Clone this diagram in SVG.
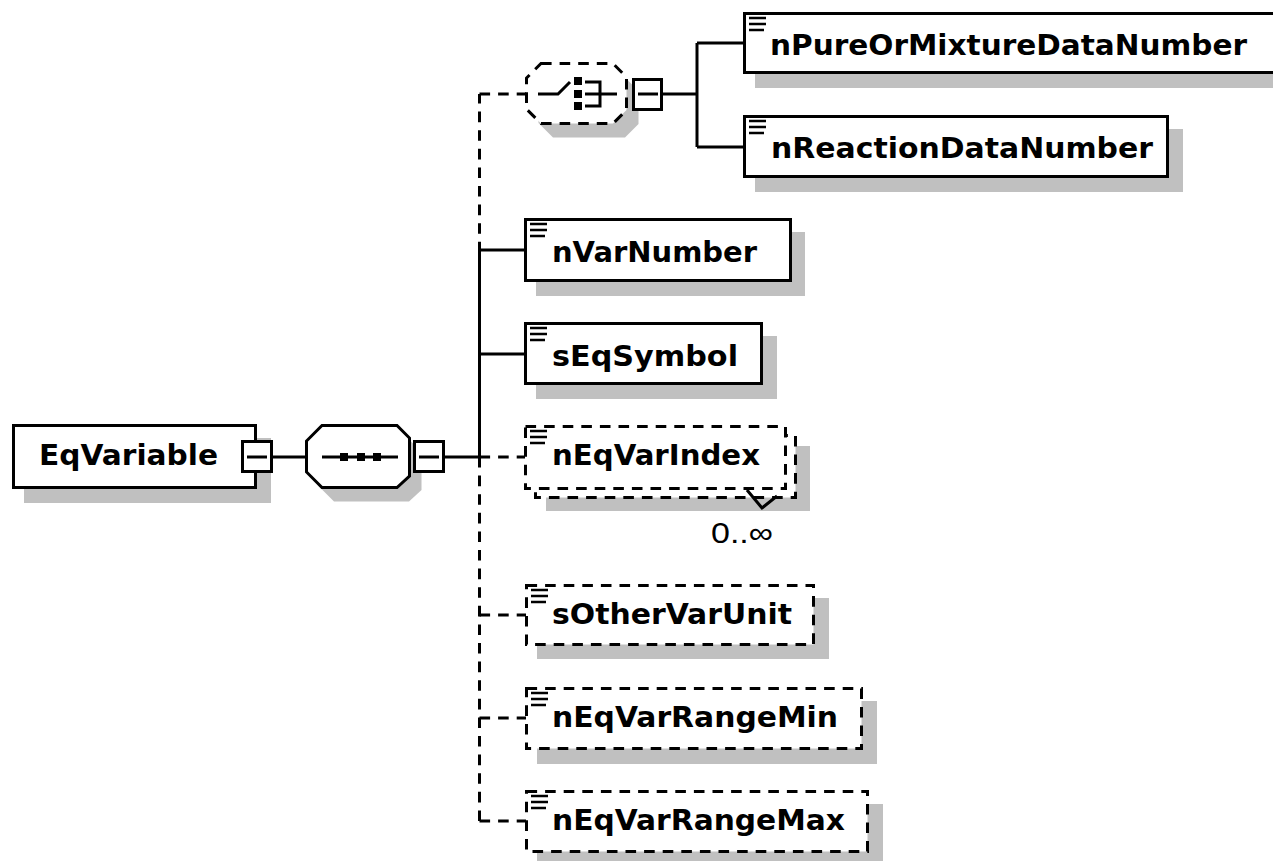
<svg xmlns="http://www.w3.org/2000/svg" width="1273" height="861" viewBox="0 0 1273 861">
<style>
.bg{fill:#ffffff}
.sh{fill:#c0c0c0;stroke:none}
.box{fill:#ffffff;stroke:#000;stroke-width:3}
.opt{fill:#ffffff;stroke:#000;stroke-width:3;stroke-dasharray:10.6 8}
.ln{fill:none;stroke:#000;stroke-width:3}
.dl{fill:none;stroke:#000;stroke-width:3;stroke-dasharray:10.6 8}
.ico{fill:none;stroke:#000;stroke-width:2.7}
.lbl{font-family:"DejaVu Sans","Liberation Sans",sans-serif;font-weight:bold;font-size:28px;fill:#000}
.occ{font-family:"Liberation Sans","DejaVu Sans",sans-serif;font-size:30px;fill:#000}
.dot{fill:#000}
</style>
<defs>
<path id="eq" d="M6 6H23M6 12H23M6 18H21" class="ico"/>
</defs>
<rect class="bg" x="0" y="0" width="1273" height="861"/>

<g id="connectors">
  <line class="ln" x1="273" y1="457" x2="306" y2="457"/>
  <line class="ln" x1="445" y1="457" x2="479.5" y2="457"/>
  <line class="dl" x1="479.5" y1="457" x2="479.5" y2="94"/>
  <line class="dl" x1="479.5" y1="94" x2="526" y2="94"/>
  <line class="ln" x1="479.5" y1="457" x2="479.5" y2="250"/>
  <line class="ln" x1="479.5" y1="250" x2="525" y2="250"/>
  <line class="ln" x1="479.5" y1="354" x2="525" y2="354"/>
  <line class="dl" x1="479.5" y1="457" x2="525" y2="457"/>
  <line class="dl" x1="479.5" y1="457" x2="479.5" y2="821"/>
  <line class="dl" x1="479.5" y1="615" x2="526" y2="615"/>
  <line class="dl" x1="479.5" y1="718" x2="526" y2="718"/>
  <line class="dl" x1="479.5" y1="821" x2="526" y2="821"/>
  <line class="ln" x1="663" y1="94" x2="697" y2="94"/>
  <line class="ln" x1="697" y1="43" x2="697" y2="147"/>
  <line class="ln" x1="697" y1="43" x2="744" y2="43"/>
  <line class="ln" x1="697" y1="147" x2="744" y2="147"/>
</g>

<g id="EqVariable">
  <rect class="sh" x="24" y="438" width="247" height="65"/>
  <rect class="box" x="13.5" y="425.5" width="242" height="62"/>
  <text class="lbl" x="39" y="465" textLength="179" lengthAdjust="spacingAndGlyphs">EqVariable</text>
  <rect class="box" x="242.5" y="441.5" width="29" height="30"/>
  <line class="ln" x1="247" y1="457" x2="267" y2="457"/>
</g>

<g id="sequence">
  <polygon class="sh" points="334,439.5 409,439.5 421.5,452 421.5,490 409,501.5 334,501.5 318.5,486 318.5,455"/>
  <polygon class="box" points="322,425.5 397,425.5 409.5,438 409.5,476 397,487.5 322,487.5 306.5,472 306.5,441"/>
  <line class="ln" x1="322" y1="457" x2="398" y2="457"/>
  <rect class="dot" x="340" y="453" width="8" height="8"/>
  <rect class="dot" x="357" y="453" width="8" height="8"/>
  <rect class="dot" x="373" y="453" width="8" height="8"/>
  <rect class="box" x="414.5" y="441.5" width="29" height="30"/>
  <line class="ln" x1="419" y1="457" x2="439" y2="457"/>
</g>

<g id="choice">
  <polygon class="sh" points="553,77.5 625,77.5 638.5,91 638.5,124 625,137.5 553,137.5 538.5,123 538.5,92"/>
  <polygon class="opt" points="541,63.5 613,63.5 626.5,77 626.5,110 613,123.5 541,123.5 526.5,109 526.5,78"/>
  <polyline class="ln" points="538,94 558,94 570,82"/>
  <rect class="dot" x="574" y="77" width="8" height="8"/>
  <rect class="dot" x="574" y="90" width="8" height="8"/>
  <rect class="dot" x="574" y="102" width="8" height="8"/>
  <polyline class="ln" points="585,82 600,82 600,106 585,106"/>
  <line class="ln" x1="585" y1="94" x2="617" y2="94"/>
  <rect class="box" x="633.5" y="79.5" width="28" height="30"/>
  <line class="ln" x1="638" y1="94" x2="658" y2="94"/>
</g>

<g id="nPureOrMixtureDataNumber">
  <rect class="sh" x="755" y="26" width="520" height="62"/>
  <rect class="box" x="744.5" y="13.5" width="540" height="59"/>
  <use href="#eq" x="743" y="12"/>
  <text class="lbl" x="770" y="55" textLength="477" lengthAdjust="spacingAndGlyphs">nPureOrMixtureDataNumber</text>
</g>

<g id="nReactionDataNumber">
  <rect class="sh" x="755" y="129" width="428" height="63"/>
  <rect class="box" x="744.5" y="116.5" width="423" height="60"/>
  <use href="#eq" x="743" y="115"/>
  <text class="lbl" x="771" y="158" textLength="382" lengthAdjust="spacingAndGlyphs">nReactionDataNumber</text>
</g>

<g id="nVarNumber">
  <rect class="sh" x="536" y="232" width="269" height="64"/>
  <rect class="box" x="525.5" y="219.5" width="265" height="61"/>
  <use href="#eq" x="524" y="218"/>
  <text class="lbl" x="552" y="262" textLength="205" lengthAdjust="spacingAndGlyphs">nVarNumber</text>
</g>

<g id="sEqSymbol">
  <rect class="sh" x="536" y="336" width="241" height="63"/>
  <rect class="box" x="525.5" y="323.5" width="236" height="60"/>
  <use href="#eq" x="524" y="322"/>
  <text class="lbl" x="552" y="366" textLength="186" lengthAdjust="spacingAndGlyphs">sEqSymbol</text>
</g>

<g id="nEqVarIndex">
  <rect class="sh" x="546" y="446" width="264" height="65"/>
  <rect class="opt" x="535.5" y="435.5" width="260" height="62"/>
  <rect class="opt" x="525.5" y="426.5" width="260" height="62"/>
  <polyline class="ln" points="747,490 762,508 777,496"/>
  <use href="#eq" x="524" y="425"/>
  <text class="lbl" x="552" y="465" textLength="208" lengthAdjust="spacingAndGlyphs">nEqVarIndex</text>
  <text class="occ" x="711" y="543" textLength="62" lengthAdjust="spacingAndGlyphs">0..∞</text>
</g>

<g id="sOtherVarUnit">
  <rect class="sh" x="537" y="598" width="292" height="61"/>
  <rect class="opt" x="526.5" y="585.5" width="287" height="59"/>
  <use href="#eq" x="525" y="584"/>
  <text class="lbl" x="552" y="624" textLength="240" lengthAdjust="spacingAndGlyphs">sOtherVarUnit</text>
</g>

<g id="nEqVarRangeMin">
  <rect class="sh" x="537" y="701" width="340" height="63"/>
  <rect class="opt" x="526.5" y="688.5" width="335" height="60"/>
  <use href="#eq" x="525" y="687"/>
  <text class="lbl" x="552" y="727" textLength="286" lengthAdjust="spacingAndGlyphs">nEqVarRangeMin</text>
</g>

<g id="nEqVarRangeMax">
  <rect class="sh" x="537" y="804" width="346" height="63"/>
  <rect class="opt" x="526.5" y="791.5" width="341" height="60"/>
  <use href="#eq" x="525" y="790"/>
  <text class="lbl" x="552" y="830" textLength="293" lengthAdjust="spacingAndGlyphs">nEqVarRangeMax</text>
</g>
</svg>
